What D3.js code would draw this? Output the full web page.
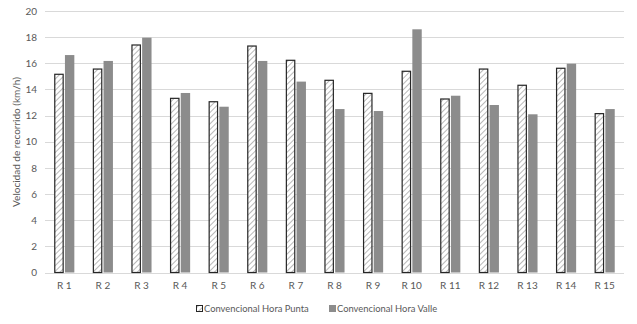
<!DOCTYPE html>
<html><head><meta charset="utf-8">
<script src="https://cdn.jsdelivr.net/npm/d3@7"></script>
<style>body{margin:0;background:#fff}svg{display:block}text{font-family:Lato,"Open Sans",sans-serif;fill:#595959}</style>
</head><body>
<svg id="c" width="637" height="324"></svg>
<script>
const categories = ["R 1","R 2","R 3","R 4","R 5","R 6","R 7","R 8","R 9","R 10","R 11","R 12","R 13","R 14","R 15"];
const seriesNames = ["Convencional Hora Punta","Convencional Hora Valle"];
const horaPunta = [15.16,15.56,17.4,13.32,13.06,17.32,16.23,14.7,13.7,15.39,13.27,15.56,14.32,15.62,12.15];
const horaValle = [16.63,16.18,17.96,13.73,12.68,16.18,14.6,12.5,12.35,18.6,13.52,12.81,12.1,15.97,12.5];
const yTicks = [0,2,4,6,8,10,12,14,16,18,20];
const yLabel = "Velocidad de recorrido (km/h)";

(function(){
const svg = d3.select("#c");
const pL = 45, pR = 624, pT = 11, pB = 272.5;
const defs = svg.append("defs");
const pat = defs.append("pattern").attr("id","hatch").attr("patternUnits","userSpaceOnUse")
  .attr("width",4).attr("height",4).attr("patternTransform","rotate(45)");
pat.append("rect").attr("width",4).attr("height",4).attr("fill","#fff");
pat.append("line").attr("x1",0).attr("y1",0).attr("x2",0).attr("y2",4).attr("stroke","#a6a6a6").attr("stroke-width",1.6);

const y = d3.scaleLinear().domain([0,20]).range([pB, pT]);
const x0 = d3.scaleBand().domain(categories).range([pL,pR]).paddingInner(0.48).paddingOuter(0.24);
const x1 = d3.scaleBand().domain([0,1]).range([0,x0.bandwidth()]).paddingInner(0.12);

svg.append("g").selectAll("line").data(yTicks).join("line")
  .attr("x1",pL).attr("x2",pR).attr("y1",d=>Math.round(y(d))+0.5).attr("y2",d=>Math.round(y(d))+0.5)
  .attr("stroke","#d9d9d9").attr("stroke-width",1);

const yAxis = d3.axisLeft(y).tickValues(yTicks).tickSize(0).tickPadding(0);
const gy = svg.append("g").attr("transform",`translate(37,0)`).call(yAxis);
gy.select(".domain").remove();
gy.selectAll("text").style("font-size","10px").attr("fill","#595959");

const xAxis = d3.axisBottom(x0).tickSize(0).tickPadding(0);
const gx = svg.append("g").attr("transform",`translate(0,${pB+9})`).call(xAxis);
gx.select(".domain").remove();
gx.selectAll("text").style("font-size","10px").attr("fill","#595959").attr("dy","0.71em");
gy.attr("font-family",null); gx.attr("font-family",null);

const data = categories.map((c,i)=>({c, v:[horaPunta[i], horaValle[i]]}));
const groups = svg.append("g").selectAll("g").data(data).join("g")
  .attr("transform",d=>`translate(${x0(d.c)},0)`);
groups.append("rect").attr("x",x1(0)+0.5).attr("width",x1.bandwidth()-1)
  .attr("y",d=>y(d.v[0])).attr("height",d=>pB-y(d.v[0]))
  .attr("fill","url(#hatch)").attr("stroke","#262626").attr("stroke-width",1.2);
groups.append("rect").attr("x",x1(1)).attr("width",x1.bandwidth())
  .attr("y",d=>y(d.v[1])).attr("height",d=>pB-y(d.v[1]))
  .attr("fill","#8c8c8c");

svg.append("text").attr("transform",`translate(16,142) rotate(-90)`).attr("text-anchor","middle")
  .attr("dy","0.35em").style("font-size","10px").text(yLabel);

const leg = svg.append("g");
leg.append("rect").attr("x",196.5).attr("y",305.5).attr("width",6).attr("height",6)
  .attr("fill","url(#hatch)").attr("stroke","#262626").attr("stroke-width",1);
leg.append("text").attr("x",204).attr("y",309).attr("dy","0.35em").style("font-size","9.4px").text(seriesNames[0]);
leg.append("rect").attr("x",329).attr("y",305).attr("width",7).attr("height",7).attr("fill","#8c8c8c");
leg.append("text").attr("x",337).attr("y",309).attr("dy","0.35em").style("font-size","9.4px").text(seriesNames[1]);
})();
</script>
</body></html>
